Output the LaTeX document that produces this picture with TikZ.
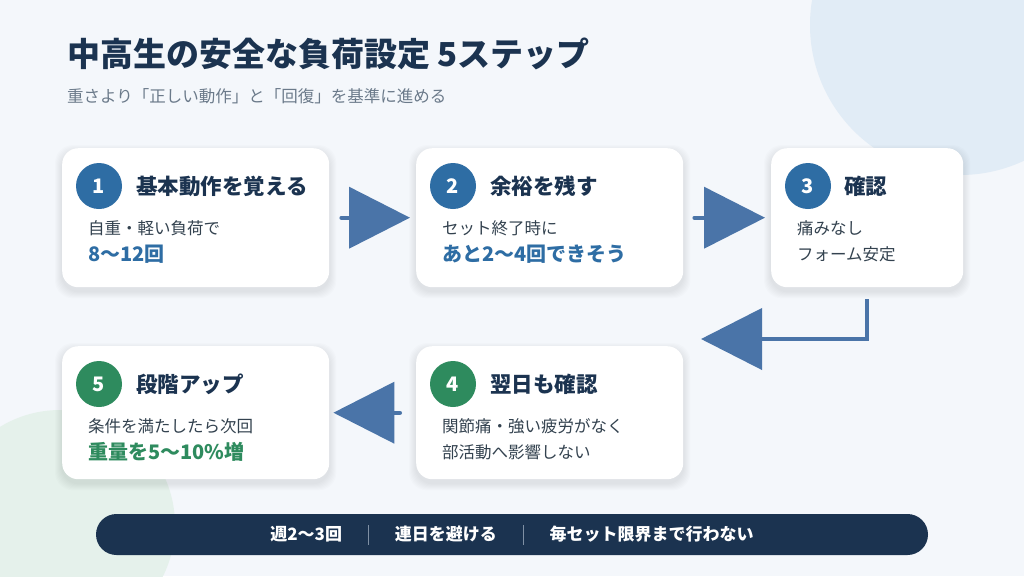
\documentclass[tikz,border=0pt]{standalone}
\usepackage{fontspec}
\setmainfont{Noto Sans CJK JP}
\usetikzlibrary{arrows.meta}
\definecolor{bgc}{HTML}{F4F7FB}
\definecolor{bluecirc}{HTML}{E1ECF6}
\definecolor{greencirc}{HTML}{E5F1EB}
\definecolor{navy}{HTML}{1B3350}
\definecolor{bodyc}{HTML}{33424F}
\definecolor{subc}{HTML}{6B7A8A}
\definecolor{bluea}{HTML}{2E6DA4}
\definecolor{greena}{HTML}{2E8B5E}
\definecolor{arrowc}{HTML}{4A74A8}
\definecolor{sepc}{HTML}{7F90A4}
\pgfdeclarelayer{background}
\pgfsetlayers{background,main}
\newcommand\sepbar{{\color{sepc}\rule[-4pt]{0.8pt}{20pt}}}
\newcommand\cshadow[1]{%
  \foreach \e in {1,...,7}{%
    \fill[black,opacity=0.011,rounded corners=18pt]
      ([xshift=-\e pt,yshift={\e pt-4pt}]#1.north west) rectangle
      ([xshift=\e pt,yshift={-\e pt-4pt}]#1.south east);}}
\begin{document}
\begin{tikzpicture}[x=1pt,y=-1pt,
  card/.style={draw=none,fill=white,rounded corners=16pt,inner sep=0pt,anchor=north west,minimum width=267pt},
  badge/.style={circle,minimum size=46pt,inner sep=0pt,text=white,font=\fontsize{20}{24}\selectfont\bfseries},
  ctitle/.style={anchor=west,inner sep=0pt,text=navy,font=\fontsize{21.5}{26}\selectfont\bfseries},
  cbody/.style={anchor=west,inner sep=0pt,text=bodyc,font=\fontsize{16.5}{20}\selectfont},
  caccent/.style={anchor=west,inner sep=0pt,font=\fontsize{20}{24}\selectfont\bfseries},
  arr/.style={draw=arrowc,line width=4pt,line cap=round,-{Triangle[length=61pt,width=61pt]}},
]
\useasboundingbox (0,0) rectangle (1024,576);

% cards
\node[card,minimum height=139pt] (c1) at (62,148) {};
\node[card,minimum height=139pt] (c2) at (416,148) {};
\node[card,minimum height=139pt,minimum width=192pt] (c3) at (771,148) {};
\node[card,minimum height=133pt] (c4) at (416,346) {};
\node[card,minimum height=133pt] (c5) at (62,346) {};

\begin{pgfonlayer}{background}
  \begin{scope}
    \clip (0,0) rectangle (1024,576);
    \fill[bgc] (0,0) rectangle (1024,576);
    \fill[bluecirc] (960,25) circle[radius=150];
    \fill[greencirc] (60,525) circle[radius=115];
  \end{scope}
  \cshadow{c1}\cshadow{c2}\cshadow{c3}\cshadow{c4}\cshadow{c5}
\end{pgfonlayer}

% heading
\node[anchor=west,inner sep=0pt,text=navy,font=\fontsize{33}{40}\selectfont\bfseries] (title) at (67,54) {中高生の安全な負荷設定 5ステップ};
\node[anchor=west,inner sep=0pt,text=subc,font=\fontsize{16.5}{20}\selectfont] (sub) at (67,96) {重さより「正しい動作」と「回復」を基準に進める};

% card 1
\node[badge,fill=bluea] (n1) at ([xshift=37pt,yshift=-38pt]c1.north west) {1};
\node[ctitle] (t1) at ([xshift=74pt,yshift=-38pt]c1.north west) {基本動作を覚える};
\node[cbody] (d1a) at ([xshift=26pt,yshift=-80pt]c1.north west) {自重・軽い負荷で};
\node[caccent,text=bluea] (d1b) at ([xshift=26pt,yshift=-106pt]c1.north west) {8〜12回};

% card 2
\node[badge,fill=bluea] (n2) at ([xshift=37pt,yshift=-38pt]c2.north west) {2};
\node[ctitle] (t2) at ([xshift=74pt,yshift=-38pt]c2.north west) {余裕を残す};
\node[cbody] (d2a) at ([xshift=26pt,yshift=-80pt]c2.north west) {セット終了時に};
\node[caccent,text=bluea] (d2b) at ([xshift=26pt,yshift=-106pt]c2.north west) {あと2〜4回できそう};

% card 3
\node[badge,fill=bluea] (n3) at ([xshift=37pt,yshift=-38pt]c3.north west) {3};
\node[ctitle] (t3) at ([xshift=73pt,yshift=-38pt]c3.north west) {確認};
\node[cbody] (d3a) at ([xshift=26pt,yshift=-80pt]c3.north west) {痛みなし};
\node[cbody] (d3b) at ([xshift=26pt,yshift=-106pt]c3.north west) {フォーム安定};

% card 4
\node[badge,fill=greena] (n4) at ([xshift=37pt,yshift=-38pt]c4.north west) {4};
\node[ctitle] (t4) at ([xshift=74pt,yshift=-38pt]c4.north west) {翌日も確認};
\node[cbody] (d4a) at ([xshift=26pt,yshift=-80pt]c4.north west) {関節痛・強い疲労がなく};
\node[cbody] (d4b) at ([xshift=26pt,yshift=-106pt]c4.north west) {部活動へ影響しない};

% card 5
\node[badge,fill=greena] (n5) at ([xshift=37pt,yshift=-38pt]c5.north west) {5};
\node[ctitle] (t5) at ([xshift=74pt,yshift=-38pt]c5.north west) {段階アップ};
\node[cbody] (d5a) at ([xshift=26pt,yshift=-80pt]c5.north west) {条件を満たしたら次回};
\node[caccent,text=greena] (d5b) at ([xshift=26pt,yshift=-106pt]c5.north west) {重量を5〜10\%増};

% connectors
\draw[arr,shorten <=12pt,shorten >=6pt] (c1.east) -- (c2.west);
\draw[arr,shorten <=11pt,shorten >=6pt] (c2.east) -- (c3.west);
\coordinate (k34) at (701,339);
\draw[arr,line cap=butt,shorten <=12pt] (c3.south) |- (k34);
\draw[arr,shorten <=16pt,shorten >=4pt] (c4.west) -- (c5.east);

% bottom bar
\node[fill=navy,rounded corners=20.5pt,minimum width=832pt,minimum height=41pt,inner sep=0pt,text=white,font=\fontsize{17}{20}\selectfont\bfseries] (bar) at (512,534.5)
  {週2〜3回\hspace{26pt}\sepbar\hspace{26pt}連日を避ける\hspace{26pt}\sepbar\hspace{26pt}毎セット限界まで行わない};
\end{tikzpicture}
\end{document}
